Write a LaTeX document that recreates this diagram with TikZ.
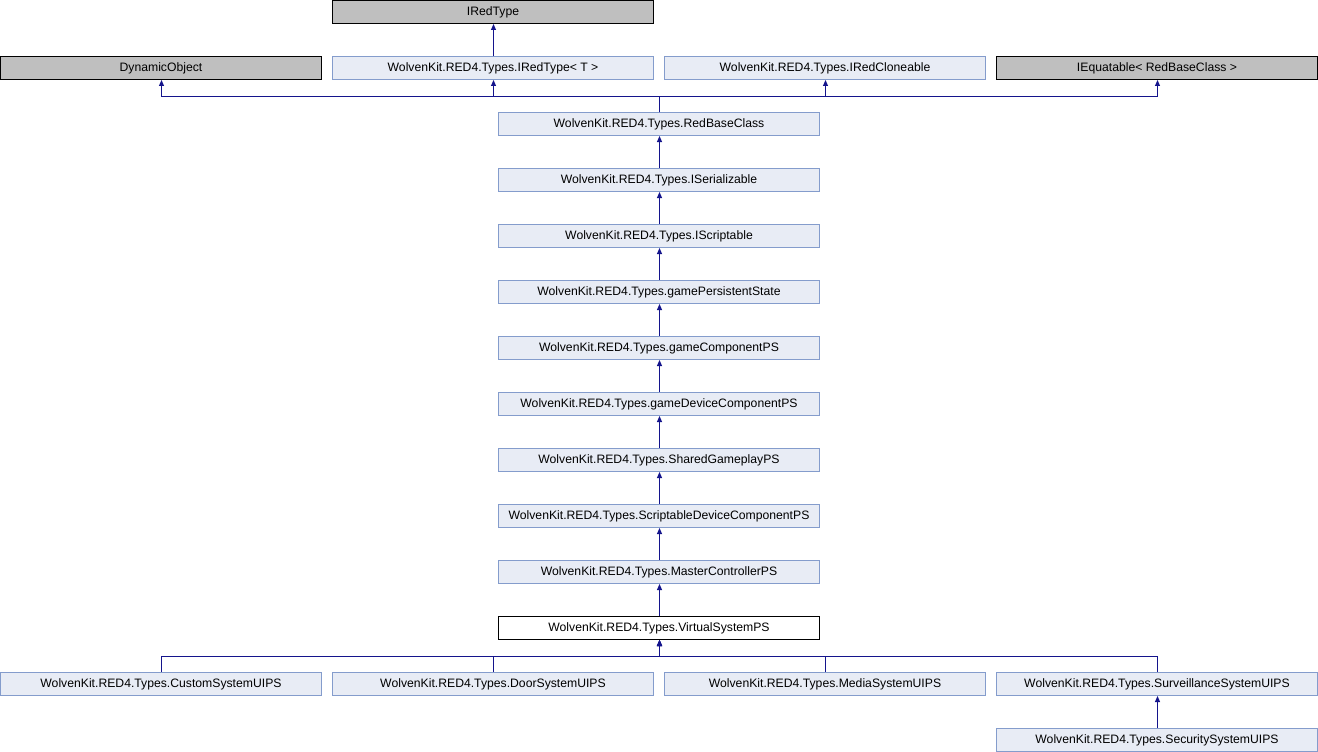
\documentclass[tikz,border=0pt]{standalone}
\usepackage{fontspec}
\setmainfont{Liberation Sans}
\usetikzlibrary{arrows.meta}
\definecolor{boxfill}{RGB}{232,236,245}
\definecolor{boxedge}{RGB}{132,156,204}
\definecolor{grayfill}{RGB}{191,191,191}
\definecolor{edgecol}{RGB}{20,20,140}
\begin{document}
\begin{tikzpicture}[x=1pt,y=-1pt,
  cls/.style={rectangle, draw=boxedge, fill=boxfill, line width=1pt, minimum width=321pt, minimum height=23pt, inner sep=0pt, font=\fontsize{12.2}{14}\selectfont},
  ext/.style={cls, draw=black, fill=grayfill},
  cur/.style={cls, draw=black, fill=white},
  inh/.style={draw=edgecol, line width=1pt, -{Triangle[width=5pt,length=6pt]}},
  inhs/.style={draw=edgecol, line width=1pt, {Triangle[width=5pt,length=6pt]}-}]
\useasboundingbox (0,0) rectangle (1318,752);
% row 1
\node[ext] (iredtype) at (493,12) {IRedType};
% row 2
\node[ext] (dyn) at (161,68) {DynamicObject};
\node[cls] (iredtypet) at (493,68) {WolvenKit.RED4.Types.IRedType< T >};
\node[cls] (clone) at (825,68) {WolvenKit.RED4.Types.IRedCloneable};
\node[ext] (equat) at (1157,68) {IEquatable< RedBaseClass >};
% main column
\node[cls] (redbase) at (659,124) {WolvenKit.RED4.Types.RedBaseClass};
\node[cls] (iser) at (659,180) {WolvenKit.RED4.Types.ISerializable};
\node[cls] (iscr) at (659,236) {WolvenKit.RED4.Types.IScriptable};
\node[cls] (gps) at (659,292) {WolvenKit.RED4.Types.gamePersistentState};
\node[cls] (gcps) at (659,348) {WolvenKit.RED4.Types.gameComponentPS};
\node[cls] (gdcps) at (659,404) {WolvenKit.RED4.Types.gameDeviceComponentPS};
\node[cls] (sgps) at (659,460) {WolvenKit.RED4.Types.SharedGameplayPS};
\node[cls] (sdcps) at (659,516) {WolvenKit.RED4.Types.ScriptableDeviceComponentPS};
\node[cls] (mcps) at (659,572) {WolvenKit.RED4.Types.MasterControllerPS};
\node[cur] (vsps) at (659,628) {WolvenKit.RED4.Types.VirtualSystemPS};
% children
\node[cls] (custom) at (161,684) {WolvenKit.RED4.Types.CustomSystemUIPS};
\node[cls] (door) at (493,684) {WolvenKit.RED4.Types.DoorSystemUIPS};
\node[cls] (media) at (825,684) {WolvenKit.RED4.Types.MediaSystemUIPS};
\node[cls] (surv) at (1157,684) {WolvenKit.RED4.Types.SurveillanceSystemUIPS};
\node[cls] (secu) at (1157,740) {WolvenKit.RED4.Types.SecuritySystemUIPS};
\coordinate (bustop) at (659.5,96.5);
\coordinate (busbot) at (659.5,656.5);
% edges
\draw[inh] ([xshift=.5pt]iredtypet.north) -- ([xshift=.5pt]iredtype.south);
\foreach \p in {dyn,iredtypet,clone,equat}
  \draw[inh] ([xshift=.5pt]redbase.north) -- (bustop) -| ([xshift=.5pt]\p.south);
\foreach \a/\b in {iser/redbase,iscr/iser,gps/iscr,gcps/gps,gdcps/gcps,sgps/gdcps,sdcps/sgps,mcps/sdcps,vsps/mcps,secu/surv}
  \draw[inh] ([xshift=.5pt]\a.north) -- ([xshift=.5pt]\b.south);
\foreach \c in {custom,door,media,surv}
  \draw[inhs] ([xshift=.5pt]vsps.south) -- (busbot) -| ([xshift=.5pt]\c.north);
\end{tikzpicture}
\end{document}
